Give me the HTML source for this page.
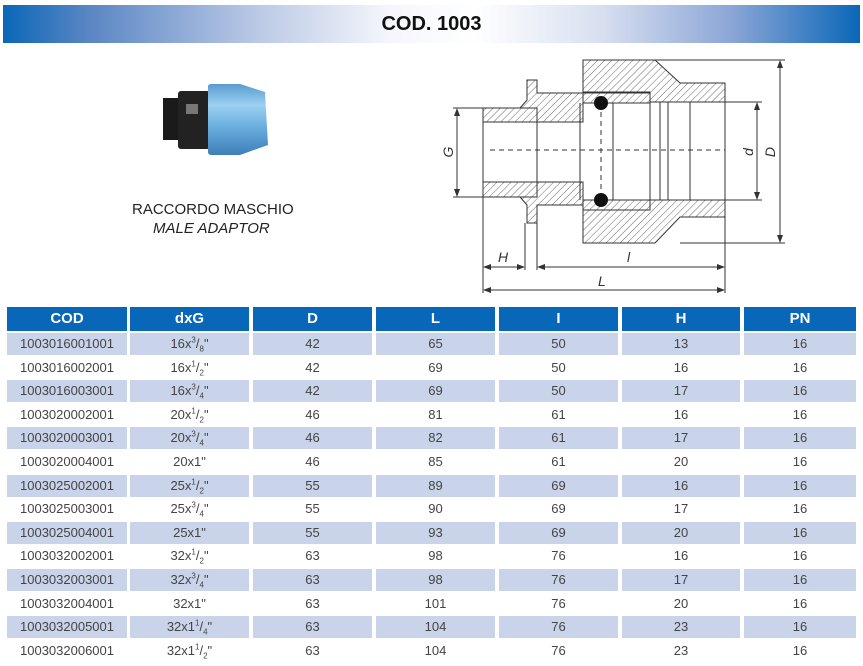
<!DOCTYPE html>
<html><head><meta charset="utf-8"><style>
body{margin:0;width:863px;height:666px;background:#fff;position:relative;overflow:hidden;font-family:"Liberation Sans",sans-serif;}
.hdr{position:absolute;left:3px;top:5px;width:857px;height:38px;background:linear-gradient(90deg,#0a67b8 0%,#5a86c4 10%,#bccae6 30%,#f4f6fb 45%,#ffffff 55%,#d7dff0 70%,#8ba6d6 85%,#0a67b8 100%);text-align:center;line-height:38px;font-weight:bold;font-size:20px;color:#111;}
.c{position:absolute;text-align:center;font-size:13px;color:#444;line-height:22px;}
.h{position:absolute;top:307px;height:24px;background:#0867b8;color:#fff;font-weight:bold;font-size:15px;line-height:24px;text-align:center;}
.s{background:#c9d4ea;}
sup,sub{font-size:8px;line-height:0;}
</style></head><body>
<div class="hdr">COD. 1003</div>
<svg width="863" height="300" style="position:absolute;left:0;top:0">
<defs><pattern id="hp" width="5" height="5" patternUnits="userSpaceOnUse" patternTransform="rotate(45)"><rect width="5" height="5" fill="#fff"/><line x1="0" y1="0" x2="0" y2="5" stroke="#444" stroke-width="0.8"/></pattern>
<linearGradient id="bl" x1="0" y1="0" x2="0" y2="1"><stop offset="0" stop-color="#5a9cd0"/><stop offset="0.3" stop-color="#9cd0f0"/><stop offset="0.6" stop-color="#6aaee0"/><stop offset="1" stop-color="#3f7fb8"/></linearGradient></defs>
<!-- photo -->
<rect x="163" y="98" width="20" height="42" fill="#1a1a1a"/>
<rect x="178" y="91" width="32" height="58" rx="3" fill="#222"/>
<rect x="186" y="104" width="12" height="10" fill="#777"/>
<path d="M208 86 Q208 84 212 84 L240 84 L265 92 L268 145 L240 155 L212 155 Q208 155 208 152 Z" fill="url(#bl)"/>
<text x="132" y="214" font-size="15" fill="#222" font-family="Liberation Sans">RACCORDO MASCHIO</text>
<text x="153" y="233" font-size="15" fill="#222" font-style="italic" font-family="Liberation Sans">MALE ADAPTOR</text>
<!-- drawing -->
<g stroke="#333" stroke-width="1" fill="url(#hp)">
<path d="M483 108 L520 108 L527 100 L527 80 L537 80 L537 93 L583 93 L583 122 L537 122 L537 108 Z"/>
<path d="M483 197 L520 197 L527 205 L527 223 L537 223 L537 205 L583 205 L583 182 L537 182 L537 197 Z"/>
<rect x="483" y="108" width="54" height="14"/>
<rect x="483" y="182" width="54" height="15"/>
<path d="M583 60 L655 60 L680 83 L725 83 L725 102 L650 102 L650 92 L583 92 Z"/>
<path d="M583 243 L655 243 L680 217 L725 217 L725 200 L650 200 L650 210 L583 210 Z"/>
<rect x="583" y="93" width="67" height="10"/>
<rect x="583" y="200" width="67" height="10"/>
</g>
<g stroke="#333" stroke-width="1" fill="none">
<line x1="537" y1="122" x2="537" y2="182"/><line x1="580" y1="103" x2="580" y2="200"/><line x1="613" y1="103" x2="613" y2="200"/>
<line x1="650" y1="102" x2="650" y2="200"/><line x1="660" y1="102" x2="660" y2="200"/><line x1="668" y1="102" x2="668" y2="200"/><line x1="690" y1="102" x2="690" y2="200"/>
<line x1="725" y1="102" x2="725" y2="200"/>
<line x1="483" y1="122" x2="483" y2="182"/>
<line x1="490" y1="150" x2="725" y2="150" stroke-dasharray="5,4"/>
<line x1="601" y1="103" x2="601" y2="200" stroke-dasharray="5,4"/>
<line x1="655" y1="60" x2="785" y2="60"/><line x1="680" y1="243" x2="785" y2="243"/>
<line x1="725" y1="102" x2="762" y2="102"/><line x1="725" y1="200" x2="762" y2="200"/>
<line x1="453" y1="108" x2="483" y2="108"/><line x1="453" y1="197" x2="483" y2="197"/>
<line x1="780" y1="62" x2="780" y2="241"/><line x1="757" y1="104" x2="757" y2="198"/><line x1="457" y1="110" x2="457" y2="195"/>
<line x1="483" y1="197" x2="483" y2="293"/><line x1="525" y1="223" x2="525" y2="270"/><line x1="537" y1="223" x2="537" y2="270"/><line x1="725" y1="217" x2="725" y2="293"/>
<line x1="485" y1="267" x2="523" y2="267"/><line x1="539" y1="267" x2="723" y2="267"/><line x1="485" y1="290" x2="723" y2="290"/>
</g>
<circle cx="601" cy="103" r="7" fill="#111"/><circle cx="601" cy="200" r="7" fill="#111"/>
<g fill="#333">
<path d="M780 60 l-3 8 h6z"/><path d="M780 243 l-3 -8 h6z"/><path d="M757 102 l-3 8 h6z"/><path d="M757 200 l-3 -8 h6z"/>
<path d="M457 108 l-3 8 h6z"/><path d="M457 197 l-3 -8 h6z"/>
<path d="M483 267 l8 -3 v6z"/><path d="M525 267 l-8 -3 v6z"/><path d="M537 267 l8 -3 v6z"/><path d="M725 267 l-8 -3 v6z"/>
<path d="M483 290 l8 -3 v6z"/><path d="M725 290 l-8 -3 v6z"/>
</g>
<g font-family="Liberation Sans" font-style="italic" font-size="14" fill="#333">
<text x="498" y="262">H</text><text x="627" y="262">l</text><text x="598" y="286">L</text>
<text transform="translate(453,152) rotate(-90)" text-anchor="middle">G</text>
<text transform="translate(753,152) rotate(-90)" text-anchor="middle">d</text>
<text transform="translate(775,152) rotate(-90)" text-anchor="middle">D</text>
</g>
</svg>
<div class="h" style="left:7px;width:120px">COD</div>
<div class="h" style="left:130px;width:119px">dxG</div>
<div class="h" style="left:253px;width:119px">D</div>
<div class="h" style="left:376px;width:119px">L</div>
<div class="h" style="left:499px;width:119px">I</div>
<div class="h" style="left:622px;width:118px">H</div>
<div class="h" style="left:744px;width:112px">PN</div>
<div id="t"></div>
<script>
var rows=[["1003016001001","16x<sup>3</sup>/<sub>8</sub>\"","42","65","50","13","16"],
["1003016002001","16x<sup>1</sup>/<sub>2</sub>\"","42","69","50","16","16"],
["1003016003001","16x<sup>3</sup>/<sub>4</sub>\"","42","69","50","17","16"],
["1003020002001","20x<sup>1</sup>/<sub>2</sub>\"","46","81","61","16","16"],
["1003020003001","20x<sup>3</sup>/<sub>4</sub>\"","46","82","61","17","16"],
["1003020004001","20x1\"","46","85","61","20","16"],
["1003025002001","25x<sup>1</sup>/<sub>2</sub>\"","55","89","69","16","16"],
["1003025003001","25x<sup>3</sup>/<sub>4</sub>\"","55","90","69","17","16"],
["1003025004001","25x1\"","55","93","69","20","16"],
["1003032002001","32x<sup>1</sup>/<sub>2</sub>\"","63","98","76","16","16"],
["1003032003001","32x<sup>3</sup>/<sub>4</sub>\"","63","98","76","17","16"],
["1003032004001","32x1\"","63","101","76","20","16"],
["1003032005001","32x1<sup>1</sup>/<sub>4</sub>\"","63","104","76","23","16"],
["1003032006001","32x1<sup>1</sup>/<sub>2</sub>\"","63","104","76","23","16"]];
var cols=[[7,120],[130,119],[253,119],[376,119],[499,119],[622,118],[744,112]];
var h="";
rows.forEach(function(r,i){var top=333+i*23.6;r.forEach(function(v,j){
h+='<div class="c'+(i%2==0?' s':'')+'" style="left:'+cols[j][0]+'px;width:'+cols[j][1]+'px;top:'+top.toFixed(1)+'px;height:22px">'+v+'</div>';});});
document.getElementById("t").innerHTML=h;
</script>
</body></html>
